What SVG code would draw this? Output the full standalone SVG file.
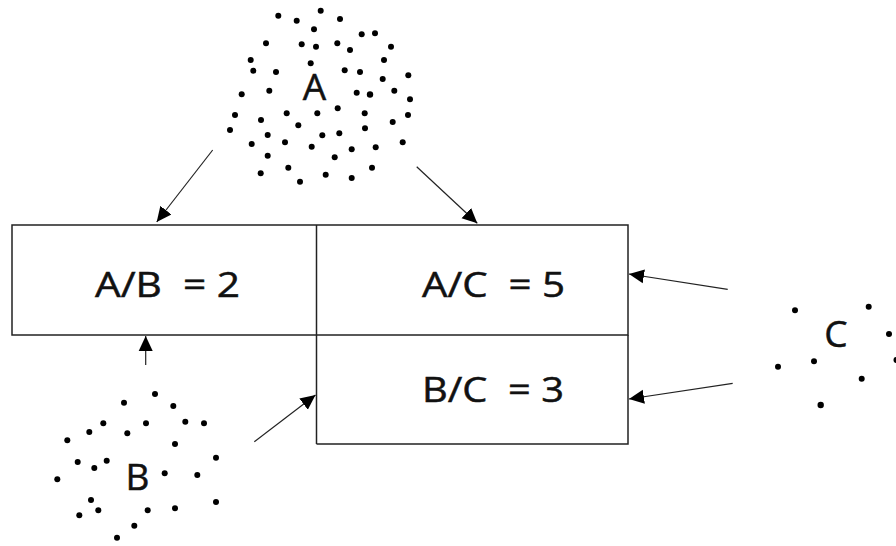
<svg xmlns="http://www.w3.org/2000/svg" width="896" height="546" viewBox="0 0 896 546">
<style>
.box{fill:none;stroke:#222;stroke-width:1.5}
.lbl{font-family:"Open Sans","Noto Sans",sans-serif;font-size:34px;fill:#111;stroke:#111;stroke-width:0.5;white-space:pre}
.big{font-family:"Open Sans","Noto Sans",sans-serif;font-size:37px;fill:#111;stroke:#111;stroke-width:0.5;text-anchor:middle}
.con{stroke:#222;stroke-width:1.2;fill:none;marker-end:url(#ah)}
.dots circle{fill:#000}
</style>
<defs>
<marker id="ah" markerUnits="userSpaceOnUse" markerWidth="18" markerHeight="18" refX="15" refY="8" orient="auto">
<path d="M0,1 L15,8 L0,15 Z" fill="#000"/>
</marker>
</defs>
<rect width="896" height="546" fill="#fff"/>
<g id="table">
<rect class="box" x="12" y="225" width="616" height="110"/>
<line class="box" x1="316.5" y1="225" x2="316.5" y2="444"/>
<polyline class="box" points="316.5,444 628,444 628,335"/>
<text class="lbl" x="95" y="297" xml:space="preserve" textLength="145" lengthAdjust="spacingAndGlyphs">A/B  = 2</text>
<text class="lbl" x="422" y="297" xml:space="preserve" textLength="143" lengthAdjust="spacingAndGlyphs">A/C  = 5</text>
<text class="lbl" x="422" y="402" xml:space="preserve" textLength="142" lengthAdjust="spacingAndGlyphs">B/C  = 3</text>
</g>
<g id="nodeA" class="dots">
<circle cx="278.3" cy="15.7" r="3"/><circle cx="296.7" cy="20.7" r="3"/><circle cx="320.7" cy="10.7" r="3"/><circle cx="340" cy="19" r="3"/><circle cx="314" cy="29.3" r="3"/><circle cx="361.7" cy="34.3" r="3"/><circle cx="375" cy="33.3" r="3"/><circle cx="266" cy="43.3" r="3"/><circle cx="301.7" cy="44.3" r="3"/><circle cx="316" cy="46.7" r="3"/><circle cx="337.3" cy="43.3" r="3"/><circle cx="350" cy="50" r="3"/><circle cx="391" cy="46.7" r="3"/><circle cx="250.7" cy="60" r="3"/><circle cx="310.7" cy="63.3" r="3"/><circle cx="384" cy="60" r="3"/><circle cx="253.3" cy="70.7" r="3"/><circle cx="276" cy="72" r="3"/><circle cx="344.7" cy="70.3" r="3"/><circle cx="360" cy="72" r="3"/><circle cx="408.3" cy="75.3" r="3"/><circle cx="382.7" cy="79" r="3"/><circle cx="241.7" cy="94.3" r="3"/><circle cx="269.3" cy="90.7" r="3"/><circle cx="356.7" cy="92.7" r="3"/><circle cx="370" cy="94.5" r="3.2"/><circle cx="394.3" cy="90.7" r="3"/><circle cx="410" cy="99.3" r="3"/><circle cx="235" cy="115" r="3"/><circle cx="261" cy="120" r="3"/><circle cx="286.7" cy="113.3" r="3"/><circle cx="317.3" cy="113.3" r="3"/><circle cx="337.7" cy="108.3" r="3"/><circle cx="364.7" cy="113.3" r="3"/><circle cx="408" cy="115" r="3"/><circle cx="298.3" cy="125.3" r="3"/><circle cx="392.7" cy="122" r="3"/><circle cx="230" cy="130" r="3"/><circle cx="267.7" cy="135" r="3"/><circle cx="322.3" cy="135.3" r="3"/><circle cx="339.3" cy="133.3" r="3"/><circle cx="365" cy="128.3" r="3"/><circle cx="251.7" cy="144" r="3"/><circle cx="285" cy="142.3" r="3"/><circle cx="311.7" cy="146.7" r="3"/><circle cx="351.7" cy="149.3" r="3"/><circle cx="375.7" cy="147.3" r="3"/><circle cx="402.7" cy="142.3" r="3"/><circle cx="267.7" cy="155.7" r="3"/><circle cx="334.7" cy="157.3" r="3"/><circle cx="288.3" cy="167.7" r="3"/><circle cx="372" cy="167.7" r="3"/><circle cx="260.7" cy="173.3" r="3"/><circle cx="325.7" cy="174.7" r="3"/><circle cx="351.7" cy="178" r="3"/><circle cx="300" cy="181.7" r="3"/>
<text class="big" x="314.5" y="100">A</text>
</g>
<g id="nodeB" class="dots">
<circle cx="155" cy="394" r="3"/><circle cx="124" cy="402.7" r="3"/><circle cx="173.3" cy="406" r="3"/><circle cx="103.3" cy="423.3" r="3"/><circle cx="146" cy="423.3" r="3"/><circle cx="185.3" cy="421.7" r="3"/><circle cx="204" cy="423.3" r="3"/><circle cx="89.3" cy="432" r="3"/><circle cx="127.3" cy="433.3" r="3"/><circle cx="67.3" cy="440.3" r="3"/><circle cx="175" cy="444" r="3"/><circle cx="216" cy="457.7" r="3"/><circle cx="77.7" cy="462" r="3"/><circle cx="106.7" cy="460.7" r="3"/><circle cx="94.3" cy="468" r="3"/><circle cx="164.7" cy="473.3" r="3"/><circle cx="197.3" cy="475" r="3"/><circle cx="57.3" cy="479.3" r="3"/><circle cx="91" cy="500" r="3"/><circle cx="216" cy="502" r="3"/><circle cx="98.3" cy="510.3" r="3"/><circle cx="147.7" cy="510.3" r="3"/><circle cx="175" cy="508.3" r="3"/><circle cx="79.3" cy="515.3" r="3"/><circle cx="134.3" cy="525.7" r="3"/><circle cx="117" cy="537.7" r="3"/>
<text class="big" x="137.5" y="490">B</text>
</g>
<g id="nodeC" class="dots">
<circle cx="795" cy="310.3" r="3"/><circle cx="868.7" cy="306.7" r="3"/><circle cx="889" cy="334" r="3"/><circle cx="896.5" cy="360" r="3"/><circle cx="778" cy="366.7" r="3"/><circle cx="814" cy="361.3" r="3"/><circle cx="861.7" cy="378.7" r="3"/><circle cx="820.7" cy="405" r="3.2"/>
<text class="big" x="836" y="347">C</text>
</g>
<g id="connectors">
<line class="con" x1="212.7" y1="150" x2="156.7" y2="222"/>
<line class="con" x1="416.7" y1="166.7" x2="477.3" y2="223.3"/>
<line class="con" x1="727.7" y1="289.3" x2="629" y2="274"/>
<line class="con" x1="732.7" y1="383.3" x2="629" y2="399"/>
<line class="con" x1="145.7" y1="365" x2="145.7" y2="336"/>
<line class="con" x1="254.3" y1="441.7" x2="315.5" y2="395"/>
</g>
</svg>
